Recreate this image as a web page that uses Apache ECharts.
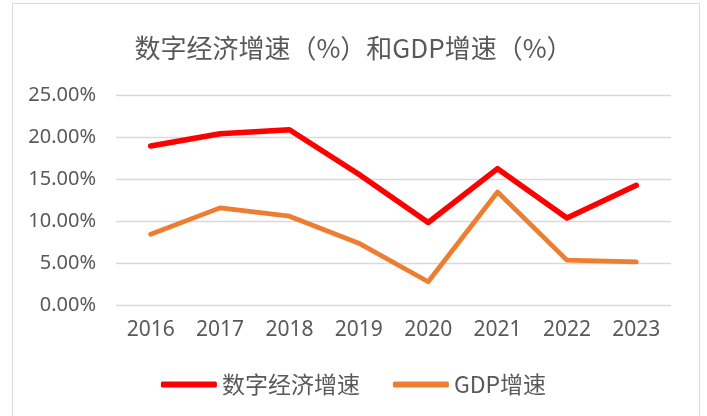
<!DOCTYPE html>
<html><head><meta charset="utf-8">
<script src="https://cdn.jsdelivr.net/npm/echarts@6/dist/echarts.min.js"></script>
<style>html,body{margin:0;padding:0;background:#fff}#c{width:707px;height:416px}</style>
</head><body><div id="c"></div>
<script>
const categories = ['2016','2017','2018','2019','2020','2021','2022','2023'];
const digitalGrowth = [18.92, 20.39, 20.87, 15.56, 9.82, 16.23, 10.37, 14.25];
const gdpGrowth = [8.43, 11.56, 10.57, 7.36, 2.77, 13.46, 5.34, 5.14];
const seriesNames = ['数字经济增速', 'GDP增速'];
const titleText = '数字经济增速（%）和GDP增速（%）';

const font = '"Noto Sans CJK SC", "Noto Sans", sans-serif';
const chart = echarts.init(document.getElementById('c'));
chart.setOption({
  animation: false,
  backgroundColor: '#fff',
  graphic: [{type:'rect', shape:{x:12.5, y:3.5, width:687, height:420}, style:{fill:'none', stroke:'#d9d9d9', lineWidth:1}}],
  title: {text: titleText, left: 'center', top: 30, textStyle:{fontFamily: font, fontSize: 26, fontWeight: 'normal', color: '#595959'}},
  legend: {top: 368, left: 'center', itemWidth: 56, itemHeight: 6, itemGap: 33, icon: 'roundRect',
    textStyle:{fontFamily: font, fontSize: 23, color:'#595959'}, data: seriesNames},
  grid: {left: 116, right: 36, top: 95, bottom: 111},
  xAxis: {type:'category', data: categories, boundaryGap: true,
    axisLine:{show:false}, axisTick:{show:false},
    axisLabel:{fontFamily: '"Noto Sans", sans-serif', fontSize: 21, color:'#595959', margin: 15}},
  yAxis: {type:'value', min:0, max:25, interval:5,
    axisLine:{show:false}, axisTick:{show:false},
    splitLine:{lineStyle:{color:'#d9d9d9', width:1.3}},
    axisLabel:{fontFamily: '"Noto Sans", sans-serif', fontSize: 20, color:'#595959', margin: 20, formatter: v => v.toFixed(2) + '%'}},
  series: [
    {name: seriesNames[0], type:'line', data: digitalGrowth, symbol:'none', lineStyle:{color:'#FF0000', width:5.5, cap:'round', join:'round'}, itemStyle:{color:'#FF0000'}},
    {name: seriesNames[1], type:'line', data: gdpGrowth, symbol:'none', lineStyle:{color:'#ED7D31', width:4.75, cap:'round', join:'round'}, itemStyle:{color:'#ED7D31'}}
  ]
});
</script></body></html>
